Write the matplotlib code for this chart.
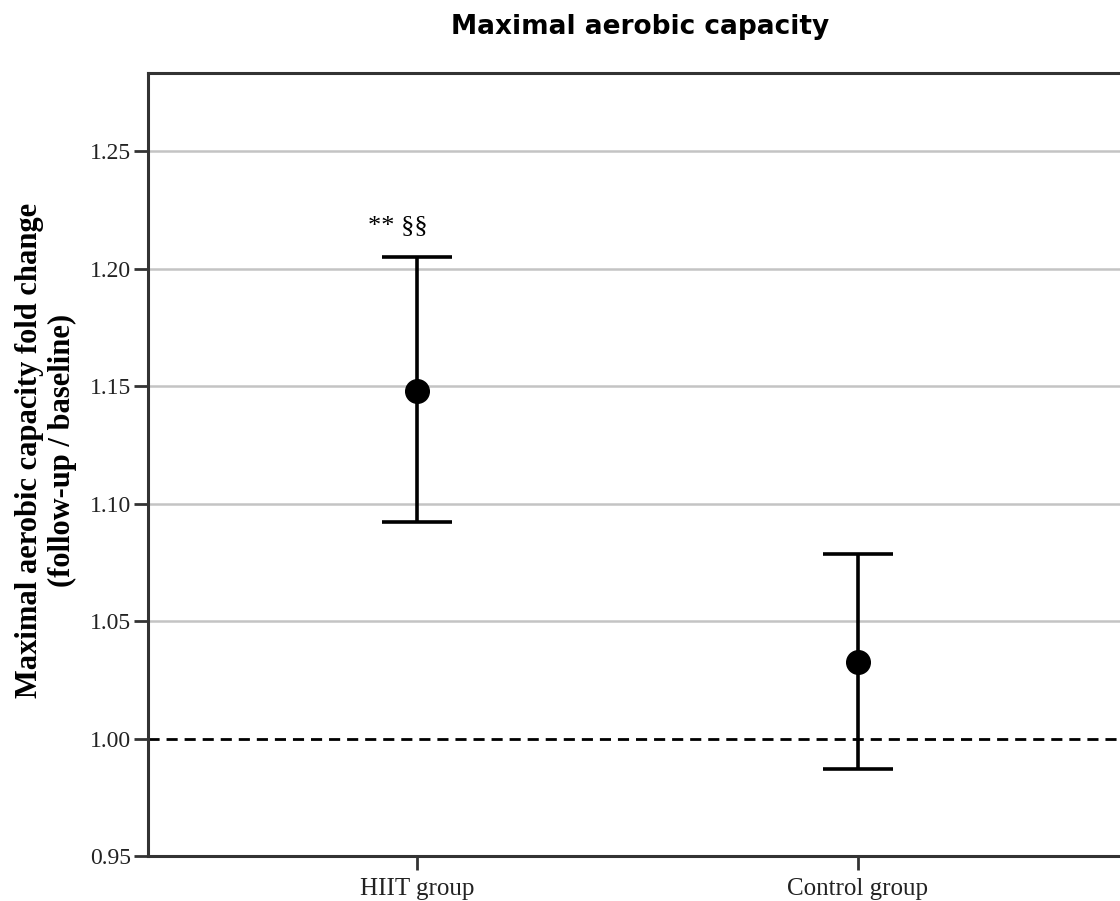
import matplotlib
matplotlib.use("Agg")
import matplotlib.pyplot as plt
import numpy as np

groups = ["HIIT group", "Control group"]
means = [1.148, 1.0325]
upper = [1.205, 1.0785]
lower = [1.092, 0.987]
yticks = [0.95, 1.00, 1.05, 1.10, 1.15, 1.20, 1.25]
annot = "** §§"

fig = plt.figure(figsize=(11.2, 9.01), dpi=100)
ax = fig.add_axes([148/1120, 45/901, (1127-148)/1120, (856-73)/901])

x = np.arange(len(groups))
means_a = np.array(means)
yerr = np.vstack([means_a - np.array(lower), np.array(upper) - means_a])

for yv in yticks[1:]:
    if abs(yv - 1.0) > 1e-9:
        ax.axhline(yv, color="#c4c4c4", lw=1.8, zorder=0)
ax.axhline(1.0, color="black", lw=2.0, ls=(0, (4, 2.5)), zorder=1)

ax.errorbar(x, means, yerr=yerr, fmt="o", color="black", ms=17,
            elinewidth=2.6, capsize=25, capthick=2.6, zorder=3)

ax.annotate(annot, xy=(x[0], upper[0]), xytext=(-14, 18), textcoords="offset points",
            ha="center", va="baseline", fontsize=19, family="Liberation Serif")

ax.set_xlim(-0.61, 1.61)
ax.set_ylim(0.95, 1.2832)
ax.set_yticks(yticks)
ax.set_yticklabels([f"{v:.2f}" for v in yticks], family="Liberation Serif", fontsize=17, color="#222222")
ax.set_xticks(x)
ax.set_xticklabels(groups, family="Liberation Serif", fontsize=18, color="#222222")
ax.tick_params(axis="both", length=10, width=2, color="#333333")
ax.tick_params(axis="y", pad=2)
ax.tick_params(axis="x", pad=6)
for s in ax.spines.values():
    s.set_color("#333333")
    s.set_linewidth(2.2)

fig.text(46/1120, 1 - 450/901, "Maximal aerobic capacity fold change\n(follow-up / baseline)",
         rotation=90, ha="center", va="center", multialignment="center",
         family="Liberation Serif", fontweight="bold", fontsize=22, linespacing=1.2)

fig.text(640/1120, 1 - 27/901, "Maximal aerobic capacity", ha="center", va="center",
         family="DejaVu Sans", fontweight="bold", fontsize=19)

fig.savefig("out.png", dpi=100)
